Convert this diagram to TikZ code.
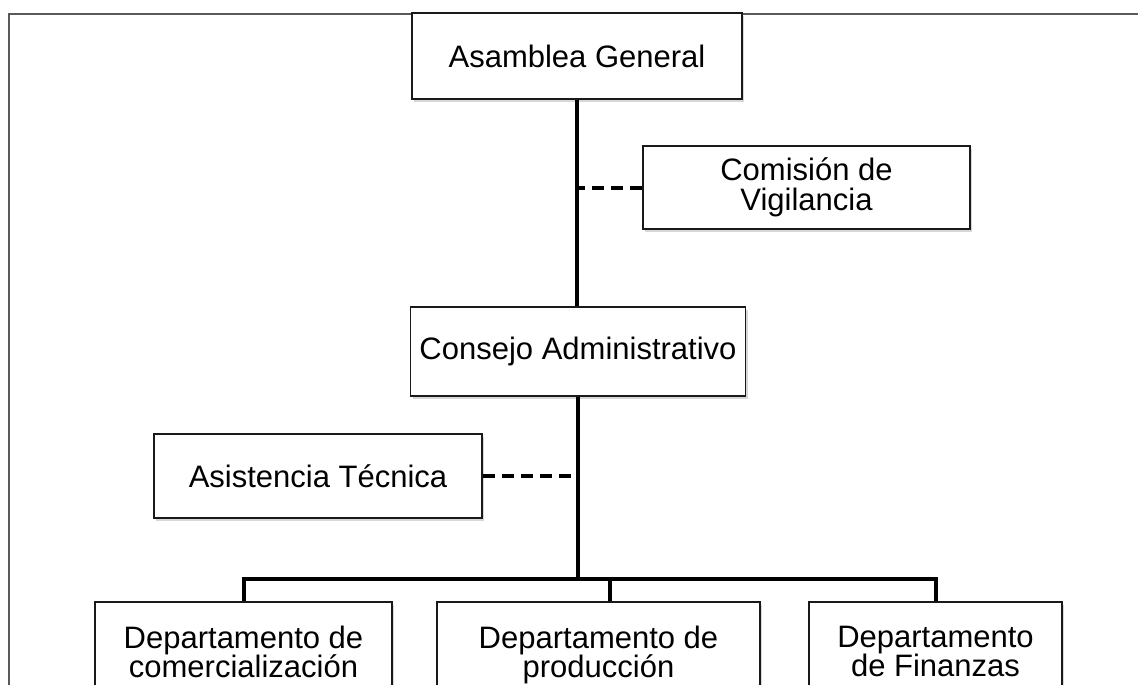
\documentclass[tikz,border=0pt]{standalone}
\usepackage{fontspec}
\setmainfont{Liberation Sans}
\usetikzlibrary{shadows}
\tikzset{
  orgbox/.style={draw=black!90, line width=1.6pt, fill=white, inner sep=0pt, align=center,
    font=\fontsize{31}{29.5}\selectfont,
    drop shadow={shadow xshift=2pt, shadow yshift=-3pt, fill=black!22, opacity=0.7}},
  conn/.style={line width=4pt, black},
  dashconn/.style={line width=4pt, black, dash pattern=on 12pt off 7pt},
  frameline/.style={line width=1.6pt, black!65}
}
\begin{document}
\begin{tikzpicture}[x=1pt,y=-1pt]
\clip (0,0) rectangle (1138,685);
\fill[white] (0,0) rectangle (1138,685);
\draw[frameline] (9,700) -- (9,14) -- (1145,14);

\node[orgbox, minimum width=330pt, minimum height=86pt] (ag) at (577,56) {Asamblea General};
\node[orgbox, minimum width=327pt, minimum height=83pt] (cv) at (806.5,187.5) {Comisión de\\Vigilancia};
\node[orgbox, minimum width=335pt, minimum height=89pt] (ca) at (578,351.5) {Consejo Administrativo};
\node[orgbox, minimum width=328pt, minimum height=84pt] (at) at (318,476) {Asistencia Técnica};
\node[orgbox, minimum width=297pt, minimum height=108pt] (d1) at (243.5,656) {Departamento de\\comercialización\strut};
\node[orgbox, minimum width=323pt, minimum height=108pt] (d2) at (598.5,656) {Departamento de\\producción\strut};
\node[orgbox, minimum width=253pt, minimum height=108pt] (d3) at (935.5,656) {Departamento\\de Finanzas\strut};

\coordinate (bus) at (578,579);

\draw[conn] (ag.south) -- (ag.south |- ca.north);
\draw[dashconn] (cv.west) -- (cv.west -| ag.south);
\draw[conn] (ca.south) -- (bus);
\draw[dashconn] (at.east) -- (at.east -| ca.south);
\draw[conn] (d1.north) |- (bus) -| (d3.north);
\draw[conn] ([xshift=11.5pt]d2.north) -- ([xshift=11.5pt]d2.north |- bus);
\end{tikzpicture}
\end{document}
